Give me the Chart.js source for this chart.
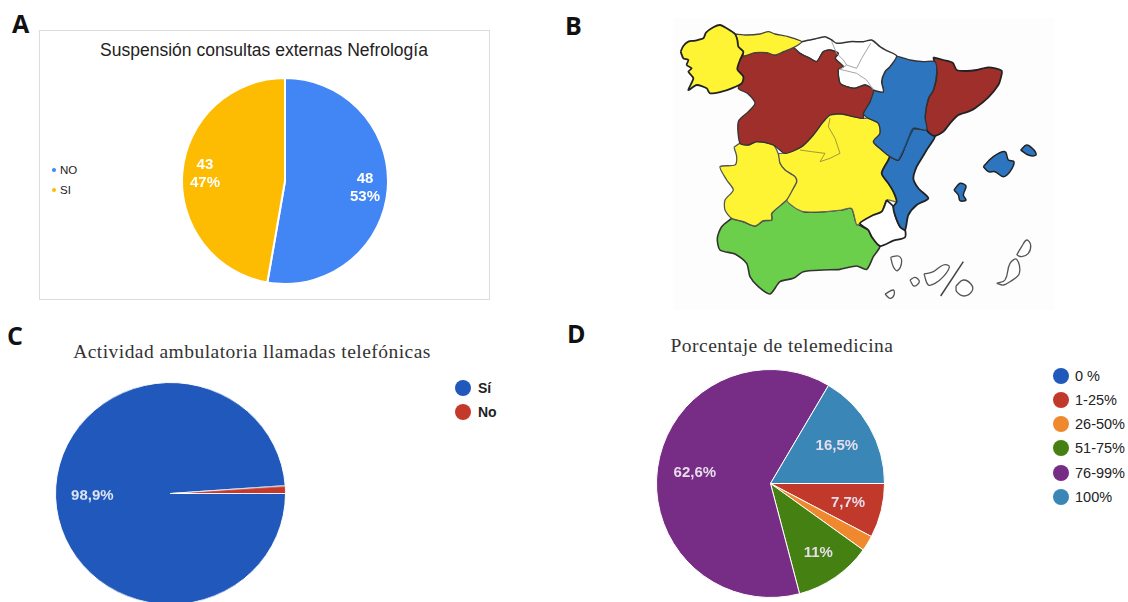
<!DOCTYPE html>
<html lang="es">
<head>
<meta charset="utf-8">
<title>Consultas y telemedicina</title>
<script src="https://cdn.jsdelivr.net/npm/chart.js@4"></script>
<style>
    html, body { margin: 0; padding: 0; width: 1128px; height: 602px; overflow: hidden; background: #fff; }
    body { position: relative; font-family: 'Liberation Sans', Arial, sans-serif; color: #222; }
    canvas { position: absolute; display: block; }
    #mapB { filter: blur(0.5px); }
    .letter { position: absolute; font: bold 25px 'Open Sans', 'Liberation Sans', sans-serif; color: #111; line-height: 1; }
    .title { position: absolute; white-space: nowrap; transform: translateX(-50%); line-height: 1; }
    .serif { font-family: 'Liberation Serif', serif; color: #333; }
    #boxA { position: absolute; left: 39px; top: 30px; width: 449px; height: 268px; border: 1.5px solid #dcdcdc; }
    #mapBg { position: absolute; left: 673px; top: 18px; width: 381px; height: 292px; background: #fdfdfd; }
    .legend-item { position: absolute; white-space: nowrap; line-height: 1; }
    .legend-item i { position: absolute; border-radius: 50%; }
</style>
</head>
<body>
<div class="letter" style="left:12px;top:11px">A</div>
<div class="letter" style="left:565px;top:13px">B</div>
<div class="letter" style="left:7px;top:323px">C</div>
<div class="letter" style="left:567px;top:321px">D</div>

<div id="boxA"></div>
<div id="mapBg"></div>

<div class="title" style="left:264px;top:42px;font-size:17.5px">Suspensión consultas externas Nefrología</div>
<div class="title serif" style="left:252px;top:342px;font-size:19.5px;letter-spacing:0.46px">Actividad ambulatoria llamadas telefónicas</div>
<div class="title serif" style="left:782px;top:336px;font-size:19.5px;letter-spacing:0.5px">Porcentaje de telemedicina</div>

<canvas id="pieA"></canvas>
<canvas id="mapB"></canvas>
<canvas id="pieC"></canvas>
<canvas id="pieD"></canvas>

<script>
// A - suspension consultas
const labelsA = ['NO', 'SI'];
const valuesA = [48, 43];
const textA = [['48', '53%'], ['43', '47%']];
const colorsA = ['#4285F4', '#FDBB02'];

// C - llamadas telefonicas
const labelsC = ['Sí', 'No'];
const valuesC = [98.9, 1.1];
const textC = [['98,9%'], []];
const colorsC = ['#2058BB', '#C5392B'];

// D - telemedicina
const labelsD = ['0 %', '1-25%', '26-50%', '51-75%', '76-99%', '100%'];
const valuesD = [0, 7.7, 2.2, 11, 62.6, 16.5];
const textD = [[], ['7,7%'], [], ['11%'], ['62,6%'], ['16,5%']];
const colorsD = ['#2058BB', '#C0392B', '#F0892E', '#458012', '#772C85', '#3A87B7'];

// B - map outlines (units are 1/3 px of the map canvas)
const galicia = [[62,125],[70,108],[85,95],[105,92],[130,85],[138,68],[160,52],[180,45],[200,55],[225,72],[232,90],[235,110],[250,125],[240,150],[232,178],[250,200],[245,220],[215,235],[185,245],[150,250],[140,235],[110,225],[85,240],[100,205],[85,185],[95,175],[80,165],[85,150],[70,145]];
const asturias = [[225,72],[260,75],[300,72],[325,65],[345,72],[385,80],[425,95],[400,113],[370,125],[345,135],[320,128],[285,128],[250,138],[250,125],[235,110],[232,90]];
const norte = [[425,95],[460,88],[495,80],[515,90],[530,100],[570,95],[610,95],[635,90],[660,110],[680,122],[710,138],[690,170],[675,185],[665,215],[670,245],[640,240],[615,225],[585,235],[560,230],[540,220],[535,178],[550,170],[525,145],[535,130],[510,120],[490,125],[470,155],[450,145],[420,130],[400,113]];
const castillaLeon = [[250,138],[285,128],[320,128],[345,135],[370,125],[400,113],[420,130],[450,145],[470,155],[490,125],[510,120],[535,130],[525,145],[550,170],[535,178],[540,220],[560,230],[585,235],[615,225],[640,240],[630,275],[610,310],[610,325],[580,320],[545,312],[510,315],[490,335],[460,375],[425,410],[375,430],[340,405],[290,395],[265,405],[240,400],[235,335],[265,305],[285,280],[262,250],[235,235],[250,200],[232,178],[240,150]];
const aragon = [[710,138],[750,150],[790,155],[825,155],[830,190],[820,240],[805,265],[795,320],[800,360],[760,355],[745,385],[735,410],[715,450],[690,440],[665,420],[640,395],[660,370],[655,340],[625,325],[610,310],[630,275],[640,240],[670,245],[665,215],[675,185],[690,170]];
const cataluna = [[820,142],[850,150],[878,158],[890,180],[920,183],[950,180],[985,172],[1025,182],[1022,205],[1015,225],[985,262],[945,295],[925,305],[895,315],[870,340],[850,365],[822,378],[800,360],[795,320],[805,265],[820,240],[830,190]];
const valencia = [[760,355],[800,360],[825,378],[810,405],[800,420],[785,445],[770,470],[760,505],[775,535],[805,565],[770,585],[745,615],[735,660],[720,650],[705,615],[700,590],[710,575],[700,545],[685,520],[665,490],[685,450],[690,440],[715,450],[735,410],[745,385]];
const murcia = [[680,570],[700,590],[705,615],[720,650],[735,660],[735,682],[700,692],[660,708],[635,680],[625,660],[600,640],[640,615],[665,605]];
const mancha = [[510,315],[545,312],[580,320],[610,325],[625,325],[655,340],[660,370],[640,395],[665,420],[690,440],[685,450],[665,490],[685,520],[700,545],[710,575],[680,570],[665,605],[640,615],[600,640],[590,645],[575,595],[545,600],[490,605],[430,605],[400,590],[380,570],[400,535],[410,515],[405,500],[375,480],[360,460],[355,432],[375,430],[425,410],[460,375],[490,335]];
const extremadura = [[222,412],[240,400],[265,405],[290,395],[340,405],[355,432],[360,460],[375,480],[405,500],[410,515],[400,535],[380,570],[335,610],[335,630],[310,632],[285,648],[250,635],[215,625],[195,600],[195,570],[220,540],[200,510],[180,470],[225,465],[230,440]];
const andalucia = [[215,625],[250,635],[285,648],[310,632],[335,630],[335,610],[380,570],[430,605],[490,605],[545,600],[575,595],[590,640],[625,660],[635,680],[660,708],[640,740],[620,778],[590,768],[540,778],[490,780],[430,785],[400,805],[360,815],[330,852],[295,830],[270,800],[260,760],[225,732],[180,720],[172,685],[185,650]];
const mallorca = [[970,470],[1000,440],[1035,425],[1045,450],[1062,455],[1050,485],[1030,500],[1005,485],[985,485]];
const menorca = [[1082,420],[1100,405],[1122,420],[1128,435],[1105,435]];
const ibiza = [[882,540],[900,520],[918,528],[910,555],[918,570],[900,572],[895,555]];
const canaria1 = [[692,742],[715,738],[725,755],[712,782],[700,770]];
const canaria2 = [[675,852],[700,840],[702,855],[690,865]];
const canaria3 = [[750,810],[765,802],[778,815],[762,828]];
const tenerife = [[792,792],[820,785],[850,765],[868,770],[850,800],[825,820],[805,825]];
const canaria4 = [[888,828],[910,810],[935,825],[935,845],[912,858],[890,845]];
const fuerteventura = [[1010,820],[1035,810],[1050,760],[1070,748],[1078,790],[1050,815],[1030,825]];
const lanzarote = [[1070,735],[1085,710],[1100,690],[1112,705],[1105,730],[1085,740]];
const canariaLine = [[842,858],[910,755]];
// thin inner borders
const lineCantabria = [[515,95],[530,130],[550,150],[560,165]];
const lineVasco = [[632,100],[605,145],[590,175],[560,165],[540,178]];
const lineRioja = [[540,178],[590,190],[620,210],[640,240]];
const lineMadrid = [[510,325],[505,350],[525,385],[540,430],[510,445],[480,455],[495,430],[455,425],[420,420]];
const lineValencia = [[760,355],[745,385],[735,410],[715,450]];

const pt = (pts) => pts.map(p => ({ x: p[0], y: p[1] }));

function region(pts, color, border = '#222', width = 1.8, tension = 0.25) {
    return {
        data: pt([...pts, pts[0]]),
        backgroundColor: color,
        borderColor: border,
        borderWidth: width,
        tension,
        fill: 'shape',
        showLine: true,
        pointRadius: 0,
        clip: false
    };
}

function stroke(pts, color, width = 1) {
    return {
        data: pt(pts),
        borderColor: color,
        borderWidth: width,
        fill: false,
        showLine: true,
        pointRadius: 0,
        clip: false
    };
}

// texts inside the slices, placed along the middle of each slice
const sliceText = {
    id: 'sliceText',
    afterDatasetsDraw(chart, args, opts) {
        const { ctx } = chart;
        chart.getDatasetMeta(0).data.forEach((arc, i) => {
            const lines = opts.text[i] || [];
            const { x, y, startAngle, endAngle, outerRadius } = arc.getProps(['x', 'y', 'startAngle', 'endAngle', 'outerRadius'], true);
            const mid = (startAngle + endAngle) / 2;
            const at = opts.at[i];
            const tx = x + Math.cos(mid) * outerRadius * at;
            const ty = y + Math.sin(mid) * outerRadius * at;
            ctx.save();
            ctx.font = opts.font;
            ctx.fillStyle = opts.color;
            ctx.textAlign = 'center';
            ctx.textBaseline = 'middle';
            lines.forEach((line, n) => {
                ctx.fillText(line, tx, ty + (n - (lines.length - 1) / 2) * opts.lineHeight);
            });
            ctx.restore();
        });
    }
};

function makePie(id, cx, cy, r, cfg) {
    const el = document.getElementById(id);
    const size = 2 * r + cfg.border;
    el.width = size;
    el.height = size;
    el.style.left = (cx - size / 2) + 'px';
    el.style.top = (cy - size / 2) + 'px';
    if (cfg.squash) el.style.transform = `scaleY(${cfg.squash})`;
    return new Chart(el, {
        type: 'pie',
        plugins: [sliceText],
        data: {
            labels: cfg.labels,
            datasets: [{
                data: cfg.values,
                backgroundColor: cfg.colors,
                borderColor: '#fff',
                borderWidth: cfg.border
            }]
        },
        options: {
            responsive: false,
            animation: false,
            rotation: cfg.rotation,
            layout: { padding: 0 },
            plugins: {
                legend: { display: false },
                tooltip: { enabled: false },
                sliceText: cfg.text
            }
        }
    });
}

function makeLegend(labels, colors, left, textLeft, tops, r, font) {
    labels.forEach((label, i) => {
        const item = document.createElement('div');
        item.className = 'legend-item';
        item.style.cssText = `left:${textLeft}px;top:${tops[i]}px;font:${font};transform:translateY(-50%)`;
        item.textContent = label;
        const dot = document.createElement('i');
        dot.style.cssText = `left:${left - r - textLeft}px;top:50%;width:${2 * r}px;height:${2 * r}px;margin-top:${-r}px;background:${colors[i]}`;
        item.appendChild(dot);
        document.body.appendChild(item);
    });
}

makePie('pieA', 285, 180.5, 103, {
    labels: labelsA, values: valuesA, colors: colorsA, border: 2, rotation: 0,
    text: { text: textA, at: [0.78, 0.78], font: 'bold 15px "Liberation Sans"', color: '#fff', lineHeight: 18 }
});
makePie('pieC', 170, 493, 115, {
    labels: labelsC, values: valuesC, colors: colorsC, border: 1, rotation: 90, squash: 0.965,
    text: { text: textC, at: [0.68, 0.68], font: 'bold 15px "Liberation Sans"', color: '#dfe7f6', lineHeight: 16 }
});
makePie('pieD', 770, 483, 114, {
    labels: labelsD, values: valuesD, colors: colorsD, border: 1, rotation: 90,
    text: { text: textD, at: [0, 0.7, 0, 0.74, 0.67, 0.67], font: 'bold 15px "Liberation Sans"', color: '#e6dcea', lineHeight: 16 }
});

makeLegend(labelsA, colorsA, 54, 60, [170, 190], 2, '11.5px "Liberation Sans"');
makeLegend(labelsC, colorsC, 463, 478, [388, 412], 8, 'bold 14px "Liberation Sans"');
makeLegend(labelsD, colorsD, 1061, 1075, [376, 400, 424, 448, 473, 497], 8, '14.5px "Liberation Sans"');

// B - Spain map as scatter shapes (first dataset ends up on top)
const mapEl = document.getElementById('mapB');
mapEl.width = 400;
mapEl.height = 300;
mapEl.style.left = '660px';
mapEl.style.top = '10px';
new Chart(mapEl, {
    type: 'scatter',
    data: {
        datasets: [
            stroke(lineCantabria, '#a5a5a5'),
            stroke(lineVasco, '#a5a5a5'),
            stroke(lineRioja, '#a5a5a5'),
            stroke(lineMadrid, '#a09a3a'),
            stroke(lineValencia, '#1d4f86'),
            stroke(canariaLine, '#444', 1.5),
            region(galicia, '#FFF433'),
            region(asturias, '#FFF433', '#444', 1.3),
            region(castillaLeon, '#9E2F2A', '#333', 1.3),
            region(norte, '#ffffff', '#333', 1.5),
            region(aragon, '#2E75BF', '#333', 1.3),
            region(cataluna, '#9E2F2A'),
            region(valencia, '#2E75BF'),
            region(murcia, '#ffffff'),
            region(extremadura, '#FFF433', '#555', 1.3),
            region(mancha, '#FFF433', '#666', 1.2),
            region(andalucia, '#6CCF4C', '#333', 1.6),
            region(mallorca, '#2E75BF', '#222', 1.5, 0.35),
            region(menorca, '#2E75BF', '#222', 1.5, 0.35),
            region(ibiza, '#2E75BF', '#222', 1.5, 0.35),
            region(canaria1, '#ffffff', '#555', 1.3, 0.4),
            region(canaria2, '#ffffff', '#555', 1.3, 0.4),
            region(canaria3, '#ffffff', '#555', 1.3, 0.4),
            region(tenerife, '#ffffff', '#555', 1.3, 0.4),
            region(canaria4, '#ffffff', '#555', 1.3, 0.4),
            region(fuerteventura, '#ffffff', '#555', 1.3, 0.4),
            region(lanzarote, '#ffffff', '#555', 1.3, 0.4)
        ]
    },
    options: {
        responsive: false,
        animation: false,
        layout: { padding: 0 },
        plugins: { legend: { display: false }, tooltip: { enabled: false } },
        scales: {
            x: { type: 'linear', min: 0, max: 1200, display: false },
            y: { type: 'linear', min: 0, max: 900, reverse: true, display: false }
        }
    }
});
</script>
</body>
</html>
